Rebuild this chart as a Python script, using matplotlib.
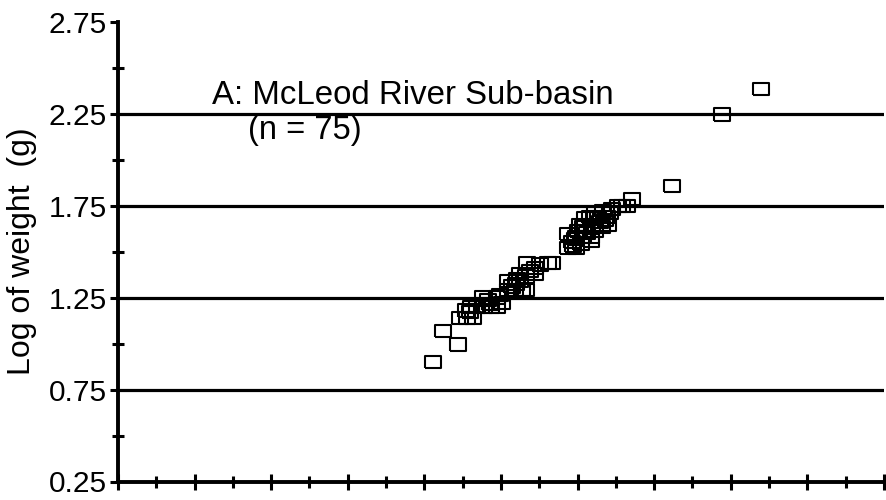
import numpy as np
import matplotlib
matplotlib.use("Agg")
import matplotlib.pyplot as plt
from matplotlib.ticker import MultipleLocator, NullFormatter

plt.rcParams["font.family"] = ["Liberation Sans", "DejaVu Sans"]

# Log of length (unlabelled axis units) and log of weight for each fish
log_length = [
    8.22, 8.49, 8.88, 8.93, 9.11, 9.27, 9.22, 9.37, 9.56, 9.74,
    9.90, 9.53, 9.66, 9.90, 10.03, 10.18, 10.37, 10.55, 10.65, 10.18,
    10.39, 10.50, 10.65, 10.89, 10.89, 10.68, 11.23, 11.33, 11.75, 11.96,
    11.75, 11.96, 12.14, 12.35, 12.09, 12.35, 12.01, 12.19, 12.14, 12.38,
    12.64, 12.19, 12.32, 12.53, 12.77, 12.45, 12.66, 12.85, 13.05, 13.29,
    13.42, 14.46, 15.77, 16.79, 9.09, 9.71, 10.29, 10.50, 10.76, 11.02,
    11.85, 11.93, 12.25, 12.45, 12.59, 12.72, 12.90, 13.15, 12.06, 12.43,
    9.19, 9.97, 10.42, 11.88, 12.79,
]
log_weight = [
    0.90, 1.07, 0.995, 1.14, 1.14, 1.14, 1.20, 1.20, 1.20, 1.20,
    1.20, 1.25, 1.235, 1.25, 1.22, 1.29, 1.29, 1.29, 1.29, 1.34,
    1.325, 1.38, 1.365, 1.38, 1.41, 1.44, 1.44, 1.44, 1.52, 1.52,
    1.597, 1.58, 1.58, 1.58, 1.54, 1.56, 1.61, 1.61, 1.635, 1.635,
    1.635, 1.68, 1.69, 1.69, 1.69, 1.71, 1.72, 1.71, 1.75, 1.75,
    1.785, 1.855, 2.245, 2.385, 1.18, 1.215, 1.31, 1.34, 1.395, 1.43,
    1.55, 1.57, 1.60, 1.615, 1.66, 1.67, 1.73, 1.75, 1.645, 1.68,
    1.17, 1.265, 1.35, 1.53, 1.645,
]

y_ticks = [0.25, 0.75, 1.25, 1.75, 2.25, 2.75]
grid_levels = [0.75, 1.25, 1.75, 2.25]

fig = plt.figure(figsize=(8.87, 5.0), dpi=100)
ax = fig.add_axes([0.133, 0.037, 0.8636, 0.9196])

for lev in grid_levels:
    ax.axhline(lev, color="black", lw=2.3, zorder=1)

# slightly wide open box marker
box = [(-1.3, -1), (1.3, -1), (1.3, 1), (-1.3, 1), (-1.3, -1)]
ax.scatter(log_length, log_weight, marker=box, s=130, facecolors="none",
           edgecolors="black", linewidths=1.5, zorder=3)

ax.set_xlim(0, 20)
ax.set_ylim(0.25, 2.75)

ax.set_yticks(y_ticks)
ax.set_yticklabels([f"{v:.2f}" for v in y_ticks], fontsize=21.5)
ax.set_yticks([0.5, 1.0, 1.5, 2.0, 2.5], minor=True)
ax.tick_params(axis="y", which="major", direction="out", length=6, width=2.2, pad=2)
ax.tick_params(axis="y", which="minor", direction="inout", length=8, width=2.2)

ax.xaxis.set_major_locator(MultipleLocator(2))
ax.xaxis.set_minor_locator(MultipleLocator(1))
ax.xaxis.set_major_formatter(NullFormatter())
ax.tick_params(axis="x", which="major", direction="inout", length=12, width=2.2)
ax.tick_params(axis="x", which="minor", direction="inout", length=9, width=2.2)

for side in ["top", "right"]:
    ax.spines[side].set_visible(False)
for side in ["left", "bottom"]:
    ax.spines[side].set_linewidth(2.8)

ax.set_ylabel("Log of weight  (g)", fontsize=23, labelpad=8)

ax.text(2.45, 2.265, "A: McLeod River Sub-basin", fontsize=23.8, ha="left", va="bottom")
ax.text(3.4, 2.24, "(n = 75)", fontsize=23.5, ha="left", va="top")

fig.savefig("out.png", dpi=100)
